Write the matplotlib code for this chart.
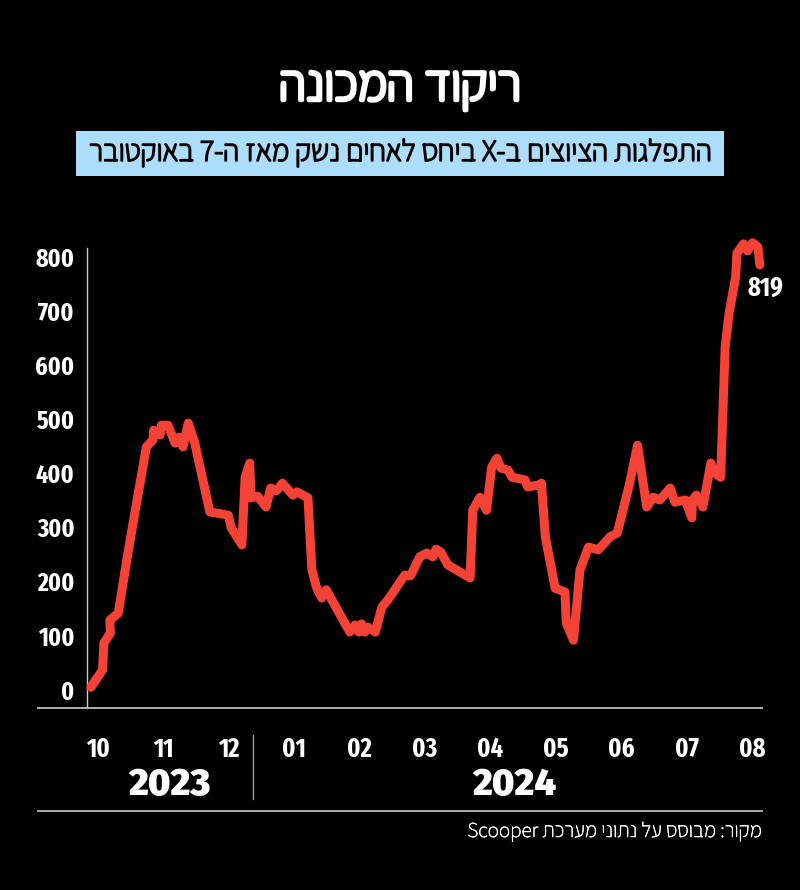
import re
import matplotlib
matplotlib.use("Agg")
import matplotlib.pyplot as plt
import matplotlib.patheffects as pe
from matplotlib.lines import Line2D
from matplotlib.patches import Rectangle

TITLE = "ריקוד המכונה"
SUBTITLE = "התפלגות הציוצים ב-X ביחס לאחים נשק מאז ה-7 באוקטובר"
SOURCE = "מקור: מבוסס על נתוני מערכת Scooper"
MONTHS = ["10", "11", "12", "01", "02", "03", "04", "05", "06", "07", "08"]
YEARS = ["2023", "2024"]
YTICKS = [0, 100, 200, 300, 400, 500, 600, 700, 800]
END_LABEL = "819"

# position in months, 0 = the "10" label
X = [-0.11, 0.07, 0.09, 0.19, 0.18, 0.31, 0.44, 0.57, 0.74, 0.84, 0.85, 0.95, 0.97, 1.07,
     1.18, 1.24, 1.30, 1.38, 1.48, 1.71, 1.99, 2.04, 2.20, 2.25, 2.32, 2.34, 2.44, 2.57,
     2.64, 2.73, 2.82, 2.98, 3.04, 3.21, 3.27, 3.34, 3.42, 3.49, 3.62, 3.85, 3.93, 3.99,
     4.03, 4.08, 4.13, 4.24, 4.34, 4.43, 4.69, 4.78, 4.92, 5.03, 5.12, 5.17, 5.24, 5.35,
     5.69, 5.73, 5.84, 5.94, 6.02, 6.10, 6.16, 6.27, 6.33, 6.53, 6.57, 6.76, 6.78, 6.84,
     6.99, 7.14, 7.16, 7.27, 7.37, 7.50, 7.65, 7.83, 7.94, 8.13, 8.25, 8.39, 8.49, 8.59,
     8.75, 8.82, 8.98, 9.08, 9.09, 9.15, 9.25, 9.37, 9.43, 9.52, 9.59, 9.65, 9.75, 9.77,
     9.87, 9.93, 10.01, 10.09, 10.12]
Y = [5, 37, 87, 105, 129, 142, 240, 332, 449, 462, 480, 471, 489, 489,
     456, 467, 449, 493, 456, 329, 323, 299, 268, 393, 419, 355, 358, 338,
     373, 368, 382, 360, 366, 355, 222, 190, 170, 185, 157, 107, 120, 107,
     122, 107, 116, 107, 153, 166, 212, 211, 246, 253, 246, 260, 255, 231,
     207, 332, 356, 332, 412, 428, 410, 406, 393, 388, 375, 379, 382, 283,
     188, 181, 124, 92, 222, 264, 259, 283, 290, 382, 452, 338, 356, 351,
     373, 347, 351, 318, 351, 360, 338, 419, 401, 393, 634, 696, 763, 807,
     824, 811, 826, 818, 785]

W, H = 800, 890
DIGITS = ["Fira Sans Extra Condensed", "Liberation Sans", "DejaVu Sans"]
HEAVY = ["Fira Sans", "Liberation Sans", "DejaVu Sans"]
HEBREW = ["Assistant", "Liberation Sans", "DejaVu Sans"]


def visual(s):
    """matplotlib has no bidi: put Hebrew in display order, keep Latin/digit runs."""
    r = s[::-1]
    return re.sub(r"[A-Za-z0-9]+", lambda m: m.group(0)[::-1], r)


def fx(p):
    return p / W


def fy(p):
    return 1 - p / H


def embolden(width, color):
    return [pe.withStroke(linewidth=width, foreground=color)]


fig = plt.figure(figsize=(W / 100, H / 100), dpi=100, facecolor="black")
ax = fig.add_axes([fx(87), fy(708), fx(762 - 87), 468 / H], facecolor="black")
ax.set_xlim((87 - 98) / 65.4, (762 - 98) / 65.4)
ax.set_ylim((690 - 708) * 1.847, (690 - 240) * 1.847)

ax.plot(X, Y, color="#F44236", lw=6.5, solid_joinstyle="round", solid_capstyle="round",
        clip_on=False, zorder=3)

for s in ["top", "right", "bottom"]:
    ax.spines[s].set_visible(False)
ax.spines["left"].set_color("#cccccc")
ax.spines["left"].set_linewidth(1.0)
ax.spines["left"].set_bounds((690 - 708) * 1.847, (690 - 248) * 1.847)

ax.set_yticks(YTICKS)
ax.set_yticklabels([str(v) for v in YTICKS], family=DIGITS, weight="bold", fontsize=18.5, color="white")
ax.tick_params(axis="y", length=0, pad=9)
ax.set_xticks(range(len(MONTHS)))
ax.set_xticklabels(MONTHS, family=DIGITS, weight="bold", fontsize=19, color="white")
ax.tick_params(axis="x", length=0, pad=20)

ax.annotate(END_LABEL, xy=(X[-1], Y[-1]), xytext=(4, -17), textcoords="offset points",
            ha="center", va="center", family=DIGITS, weight="bold", fontsize=19, color="white")

for x0, x1, py, c in [(38, 762, 708, "#bdbdbd"), (38, 762, 811, "#bdbdbd")]:
    fig.add_artist(Line2D([fx(x0), fx(x1)], [fy(py), fy(py)], color=c, lw=1.3))
fig.add_artist(Line2D([fx(253), fx(253)], [fy(735), fy(799)], color="#999999", lw=1.0))

fig.text(fx(169), fy(785), YEARS[0], ha="center", va="center", family=HEAVY, weight=900,
         fontsize=27, color="white")
fig.text(fx(514), fy(785), YEARS[1], ha="center", va="center", family=HEAVY, weight=900,
         fontsize=27, color="white")

fig.text(fx(400), fy(87), visual(TITLE), ha="center", va="center", family=HEBREW, weight="bold",
         fontsize=36.5, color="white", path_effects=embolden(3.2, "white"))
fig.add_artist(Rectangle((fx(76), fy(176)), 648 / W, 45 / H, transform=fig.transFigure,
                         facecolor="#ACDEFB", edgecolor="none"))
fig.text(fx(400), fy(153), visual(SUBTITLE), ha="center", va="center", family=HEBREW, weight="bold",
         fontsize=21.8, color="black", zorder=5, path_effects=embolden(1.4, "black"))
fig.text(fx(762), fy(832), visual(SOURCE), ha="right", va="center", family=HEBREW,
         fontsize=15.2, color="white", path_effects=embolden(0.4, "white"))

fig.savefig("out.png", dpi=100, facecolor="black")
